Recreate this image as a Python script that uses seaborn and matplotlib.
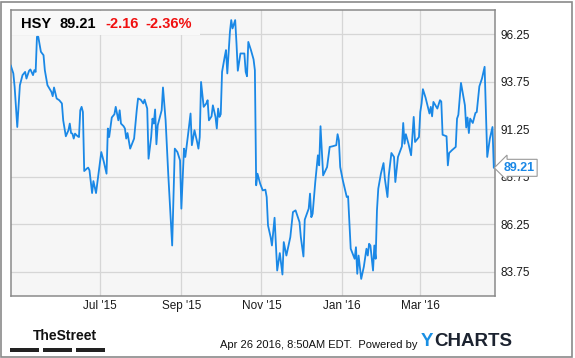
import matplotlib
matplotlib.use('Agg')
import matplotlib.pyplot as plt
import matplotlib.dates as mdates
from matplotlib.patches import Rectangle
import numpy as np
import pandas as pd
import seaborn as sns

ticker = 'HSY'
last_price = 89.21
change = -2.16
change_pct = -2.36
stamp = 'Apr 26 2016, 8:50AM EDT.  Powered by'

dates = [
    '2015-04-24', '2015-04-26', '2015-04-27', '2015-04-29', '2015-05-01', '2015-05-03', '2015-05-05',
    '2015-05-06', '2015-05-08', '2015-05-09', '2015-05-11', '2015-05-12', '2015-05-13', '2015-05-14',
    '2015-05-15', '2015-05-17', '2015-05-19', '2015-05-20', '2015-05-22', '2015-05-25', '2015-05-26',
    '2015-05-27', '2015-05-29', '2015-05-31', '2015-06-02', '2015-06-03', '2015-06-05', '2015-06-07',
    '2015-06-08', '2015-06-09', '2015-06-10', '2015-06-11', '2015-06-12', '2015-06-14', '2015-06-15',
    '2015-06-16', '2015-06-17', '2015-06-18', '2015-06-19', '2015-06-21', '2015-06-22', '2015-06-23',
    '2015-06-25', '2015-06-26', '2015-06-28', '2015-07-02', '2015-07-04', '2015-07-06', '2015-07-07',
    '2015-07-08', '2015-07-10', '2015-07-12', '2015-07-13', '2015-07-15', '2015-07-16', '2015-07-17',
    '2015-07-19', '2015-07-20', '2015-07-21', '2015-07-22', '2015-07-24', '2015-07-26', '2015-07-27',
    '2015-07-29', '2015-07-30', '2015-08-01', '2015-08-03', '2015-08-04', '2015-08-06', '2015-08-07',
    '2015-08-09', '2015-08-10', '2015-08-11', '2015-08-12', '2015-08-13', '2015-08-14', '2015-08-17',
    '2015-08-18', '2015-08-20', '2015-08-22', '2015-08-25', '2015-08-27', '2015-08-29', '2015-08-31',
    '2015-09-01', '2015-09-03', '2015-09-04', '2015-09-06', '2015-09-08', '2015-09-09', '2015-09-11',
    '2015-09-13', '2015-09-14', '2015-09-15', '2015-09-16', '2015-09-18', '2015-09-20', '2015-09-21',
    '2015-09-22', '2015-09-24', '2015-09-25', '2015-09-27', '2015-09-28', '2015-09-29', '2015-09-30',
    '2015-10-01', '2015-10-02', '2015-10-04', '2015-10-05', '2015-10-06', '2015-10-08', '2015-10-09',
    '2015-10-10', '2015-10-12', '2015-10-13', '2015-10-14', '2015-10-16', '2015-10-19', '2015-10-20',
    '2015-10-21', '2015-10-22', '2015-10-24', '2015-10-26', '2015-10-27', '2015-10-28', '2015-10-29',
    '2015-10-31', '2015-11-02', '2015-11-04', '2015-11-05', '2015-11-06', '2015-11-08', '2015-11-09',
    '2015-11-11', '2015-11-12', '2015-11-13', '2015-11-15', '2015-11-17', '2015-11-18', '2015-11-20',
    '2015-11-23', '2015-11-25', '2015-11-27', '2015-11-30', '2015-12-01', '2015-12-03', '2015-12-04',
    '2015-12-07', '2015-12-08', '2015-12-09', '2015-12-10', '2015-12-12', '2015-12-14', '2015-12-15',
    '2015-12-16', '2015-12-18', '2015-12-21', '2015-12-23', '2015-12-25', '2015-12-28', '2015-12-29',
    '2015-12-30', '2015-12-31', '2016-01-02', '2016-01-05', '2016-01-06', '2016-01-08', '2016-01-11',
    '2016-01-12', '2016-01-13', '2016-01-14', '2016-01-16', '2016-01-18', '2016-01-20', '2016-01-21',
    '2016-01-22', '2016-01-23', '2016-01-25', '2016-01-26', '2016-01-27', '2016-01-28', '2016-01-29',
    '2016-01-31', '2016-02-02', '2016-02-03', '2016-02-05', '2016-02-06', '2016-02-08', '2016-02-10',
    '2016-02-11', '2016-02-13', '2016-02-16', '2016-02-17', '2016-02-18', '2016-02-19', '2016-02-21',
    '2016-02-23', '2016-02-25', '2016-02-26', '2016-02-29', '2016-03-01', '2016-03-02', '2016-03-03',
    '2016-03-05', '2016-03-08', '2016-03-09', '2016-03-10', '2016-03-11', '2016-03-14', '2016-03-16',
    '2016-03-17', '2016-03-18', '2016-03-21', '2016-03-22', '2016-03-23', '2016-03-25', '2016-03-28',
    '2016-03-29', '2016-03-30', '2016-04-01', '2016-04-03', '2016-04-04', '2016-04-05', '2016-04-06',
    '2016-04-07', '2016-04-08', '2016-04-10', '2016-04-12', '2016-04-13', '2016-04-15', '2016-04-17',
    '2016-04-19', '2016-04-21', '2016-04-23', '2016-04-25', '2016-04-26',
]

prices = [
    94.61, 94.18, 93.47, 91.36, 93.56, 94.09, 94.26,
    93.91, 94.32, 94.39, 94.09, 94.35, 94.26, 96.11,
    96.11, 95.32, 95.14, 94.35, 93.56, 93.21, 92.98,
    93.44, 92.86, 92.77, 92.60, 91.71, 90.87, 91.19,
    91.54, 91.04, 91.01, 90.75, 91.01, 90.87, 90.83,
    92.24, 92.42, 92.15, 89.04, 89.17, 89.22, 89.08,
    87.88, 88.51, 87.88, 90.04, 89.51, 88.90, 91.28,
    90.83, 91.86, 92.03, 92.42, 91.71, 92.24, 91.54,
    91.40, 91.28, 90.75, 91.04, 90.22, 90.57, 90.75,
    92.24, 92.86, 92.80, 92.60, 92.80, 92.33, 89.69,
    90.83, 91.80, 91.54, 92.28, 90.45, 91.45, 92.24,
    93.44, 91.71, 88.90, 85.12, 90.22, 90.04, 89.60,
    87.06, 90.22, 89.78, 90.90, 92.07, 90.40, 91.19,
    90.57, 90.22, 90.83, 93.73, 92.42, 92.60, 92.77,
    91.71, 91.92, 92.50, 91.89, 91.28, 92.33, 91.89,
    92.03, 94.26, 95.05, 95.41, 94.18, 96.37, 96.99,
    96.55, 96.99, 95.76, 94.32, 95.23, 95.23, 94.26,
    94.03, 95.84, 95.41, 94.92, 94.35, 88.29, 88.90,
    88.38, 88.02, 88.06, 87.67, 86.18, 85.56, 85.12,
    86.58, 85.21, 83.80, 84.72, 83.59, 85.30, 84.59,
    85.56, 86.88, 86.97, 86.35, 85.56, 84.54, 86.48,
    87.06, 87.85, 86.61, 86.79, 88.46, 89.87, 89.34,
    91.40, 88.81, 89.25, 90.31, 90.34, 90.40, 90.98,
    90.66, 89.25, 88.55, 87.67, 87.71, 84.95, 84.42,
    85.03, 83.63, 84.59, 83.36, 84.00, 84.95, 84.59,
    85.21, 85.12, 83.80, 85.12, 84.42, 86.97, 88.11,
    88.90, 89.46, 88.64, 87.67, 88.81, 89.99, 89.78,
    88.46, 89.78, 90.34, 91.57, 90.48, 90.98, 90.48,
    89.87, 91.89, 90.57, 90.83, 92.15, 92.60, 93.35,
    92.91, 92.07, 92.42, 91.92, 92.68, 92.33, 92.77,
    92.70, 90.95, 90.87, 89.34, 89.99, 90.13, 90.31,
    91.80, 92.00, 93.68, 92.90, 92.50, 91.33, 91.86,
    91.04, 91.80, 91.57, 92.10, 92.14, 93.50, 93.91,
    94.53, 89.78, 90.75, 91.36, 89.21,
]

y_ticks = [83.75, 86.25, 88.75, 91.25, 93.75, 96.25]
x_ticks = ['2015-07-01', '2015-09-01', '2015-11-01', '2016-01-01', '2016-03-01']

df = pd.DataFrame({'date': pd.to_datetime(dates), 'price': prices})

sns.set_style('whitegrid', {'axes.facecolor': '#f6f6f6', 'grid.color': '#d6d6d6',
                            'axes.edgecolor': '#8a8a8a'})
plt.rcParams['font.family'] = ['Liberation Sans', 'DejaVu Sans']

W, H = 575, 358
fig = plt.figure(figsize=(W / 100, H / 100), dpi=100)
fig.patch.set_facecolor('white')
fig.patches.append(Rectangle((1 / W, 1 / H), 571 / W, 355 / H, transform=fig.transFigure,
                             fill=False, edgecolor='#8a8a8a', linewidth=1.2))

ax = fig.add_axes([10.7 / W, 62 / H, 484.3 / W, 286 / H])
sns.lineplot(data=df, x='date', y='price', ax=ax, color='#1a88e6', linewidth=1.3, zorder=3)

ax.set_xlim(pd.Timestamp('2015-04-24'), pd.Timestamp('2016-04-26 22:00'))
ax.set_ylim(82.46, 97.52)
ax.set_xticks(pd.to_datetime(x_ticks))
ax.xaxis.set_major_formatter(mdates.DateFormatter("%b '%y"))
ax.set_yticks(y_ticks)
ax.set_yticklabels(['%.2f' % v for v in y_ticks])
ax.yaxis.tick_right()
ax.tick_params(length=0, labelsize=8.5, labelcolor='#1a1a1a')
ax.tick_params(axis='y', pad=4)
ax.tick_params(axis='x', pad=3)
ax.grid(True, linewidth=0.9)
ax.set_xlabel('')
ax.set_ylabel('')
for s in ax.spines.values():
    s.set_color('#8a8a8a')
    s.set_linewidth(1.1)

# header box
ax.add_patch(Rectangle((11 / W, 1 - 35 / H), 189 / W, 24 / H, transform=fig.transFigure,
                       facecolor='#f8f8f8', edgecolor='none', zorder=1, clip_on=False))
hy = 1 - 24 / H
fig.text(21 / W, hy, ticker, fontsize=10.5, fontweight='bold', color='black', va='center')
fig.text(60 / W, hy, '%.2f' % last_price, fontsize=10.5, fontweight='bold', color='black', va='center')
fig.text(105 / W, hy, '%.2f' % change, fontsize=10.5, fontweight='bold', color='#f01010', va='center')
fig.text(145 / W, hy, '%.2f%%' % change_pct, fontsize=10.5, fontweight='bold', color='#f01010', va='center')

# last value tag
ax.annotate('%.2f' % prices[-1], xy=(df['date'].iloc[-1], prices[-1]), xytext=(7, 0),
            textcoords='offset points', ha='left', va='center', fontsize=9, fontweight='bold',
            color='#1a88e6', annotation_clip=False, zorder=10,
            bbox=dict(boxstyle='larrow,pad=0.2', facecolor='white', edgecolor='#999999', linewidth=0.8))

# footer
fig.text(33 / W, 1 - 336 / H, 'TheStreet', fontsize=10, fontweight='bold', va='center',
         color='#111111')
for x0 in [9.5, 43, 76]:
    fig.patches.append(Rectangle((x0 / W, 1 - 352 / H), 29 / W, 4 / H, transform=fig.transFigure,
                                 facecolor='#222222', edgecolor='none'))
fig.text(418 / W, 1 - 345 / H, stamp, fontsize=8, ha='right', va='center', color='#111111')
fig.text(421 / W, 1 - 342 / H, 'Y', fontsize=13.5, fontweight='bold', va='center', color='#1a8fe3')
fig.text(434 / W, 1 - 342 / H, 'CHARTS', fontsize=13.5, fontweight='bold', va='center', color='#1c2330')

plt.savefig('out.png', dpi=100)
